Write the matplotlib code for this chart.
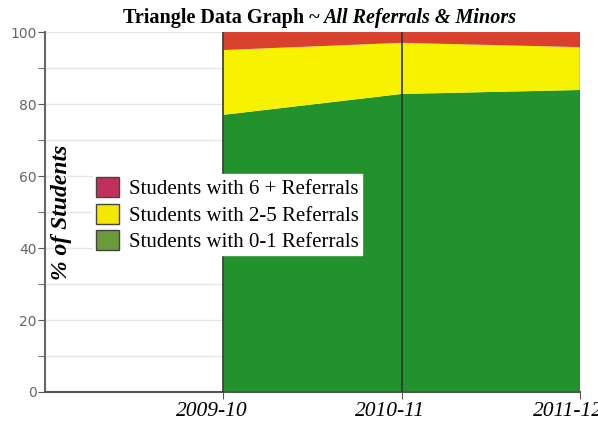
import numpy as np
import matplotlib.pyplot as plt
import matplotlib.transforms as mtrans
from matplotlib.patches import Patch

# data
years = ["2009-10", "2010-11", "2011-12"]
low = [77.0, 82.8, 83.9]      # 0-1 referrals
mid = [18.0, 14.2, 11.9]      # 2-5 referrals
high = [5.0, 3.0, 4.2]        # 6+ referrals

fillColors = ["#21922c", "#f7f200", "#d9412e"]
legendColors = ["#6a9a3a", "#f5e800", "#c0305a"]
legendNames = ["Students with 0-1 Referrals", "Students with 2-5 Referrals",
               "Students with 6 + Referrals"]

fig = plt.figure(figsize=(5.98, 4.22), dpi=100)
ax = fig.add_axes([0.0753, 0.0711, 0.8947, 0.853])

x = np.arange(1, len(years) + 1)
ax.stackplot(x, low, mid, high, colors=fillColors, linewidth=0)
for xi in x[:-1]:
    ax.axvline(xi, color="#333333", linewidth=1.2, zorder=3)
ax.axvline(x[-1], color="#555555", linewidth=1.0, zorder=3)

ax.set_xlim(0, 3)
ax.set_ylim(0, 100)
ax.set_yticks(range(0, 101, 20))
ax.set_yticks(range(10, 100, 20), minor=True)
ax.yaxis.grid(True, which="both", color="#e6e6e6", linewidth=1)
ax.set_axisbelow(True)
ax.tick_params(axis="y", which="both", colors="#555555", labelsize=10, length=5, pad=1)
ax.tick_params(axis="y", labelcolor="#666666")
ax.set_xticks(x)
ax.set_xticklabels(years, family="Liberation Serif", style="italic", fontsize=15.5)
ax.tick_params(axis="x", length=5, color="#555555", pad=2)
# labels sit a little left of their ticks in the original
shift = mtrans.ScaledTranslation(-12 / 100, 0, fig.dpi_scale_trans)
for lab in ax.get_xticklabels():
    lab.set_transform(lab.get_transform() + shift)

for s in ["top", "right"]:
    ax.spines[s].set_visible(False)
ax.spines["left"].set_color("#666666")
ax.spines["left"].set_linewidth(1.5)
ax.spines["bottom"].set_color("#555555")
ax.spines["bottom"].set_linewidth(1.5)

fig.text(0.535, 0.958, "Triangle Data Graph ~", family="Liberation Serif",
         weight="bold", fontsize=14.5, va="center", ha="right")
fig.text(0.541, 0.958, "All Referrals & Minors", family="Liberation Serif",
         weight="bold", style="italic", fontsize=14.5, va="center", ha="left")

ax.text(0.03, 0.5, "% of Students", transform=ax.transAxes, rotation=90,
        family="Liberation Serif", weight="bold", style="italic", fontsize=17,
        va="center", ha="center")

handles = [Patch(facecolor=legendColors[i], edgecolor="#444444", label=legendNames[i])
           for i in [2, 1, 0]]
leg = ax.legend(handles=handles, loc="upper left", bbox_to_anchor=(0.09, 0.605),
                prop={"family": "Liberation Serif", "size": 15}, frameon=True,
                fancybox=False, framealpha=1, edgecolor="white", borderpad=0.15,
                handlelength=1.1, handleheight=1.1, labelspacing=0.2,
                handletextpad=0.45, borderaxespad=0)
leg.set_zorder(5)

fig.savefig("out.png", dpi=100)
